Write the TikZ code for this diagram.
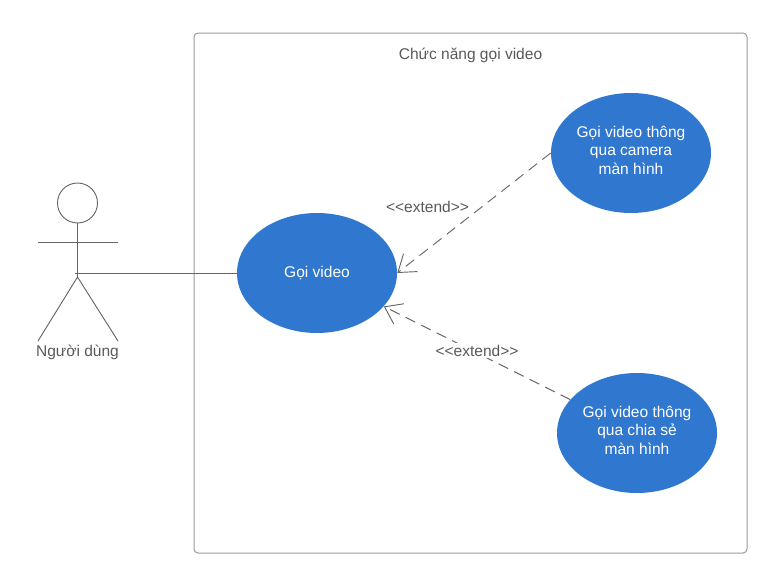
\documentclass[tikz,border=0pt]{standalone}
\usepackage{fontspec}
\setmainfont{Liberation Sans}
\usetikzlibrary{arrows.meta,positioning,shapes.geometric}
\definecolor{CaseBlue}{HTML}{3077CF}
\definecolor{LineGrey}{HTML}{666666}
\definecolor{FrameGrey}{HTML}{999999}
\definecolor{TextGrey}{HTML}{595959}

\begin{document}
\begin{tikzpicture}[
  x=0.75pt, y=-0.75pt,
  usecase/.style={ellipse, fill=CaseBlue, minimum width=120pt, minimum height=90pt, inner sep=0pt, align=center, text=white, font=\fontsize{11.65}{13.9}\selectfont},
  lifted/.style={usecase, execute at end node=\rule[-4pt]{0pt}{4pt}},
  frame/.style={draw=FrameGrey, line width=0.75pt, rounded corners=3pt},
  label/.style={text=TextGrey, font=\fontsize{11.65}{13.9}\selectfont, inner sep=1pt},
  stick/.style={draw=LineGrey, line width=0.7pt},
  extend/.style={-{Straight Barb[length=12pt, width=17pt]}, draw=LineGrey, line width=0.7pt, dash pattern=on 8pt off 5pt}
]
  \useasboundingbox (0,0) rectangle (767,582);
  \draw[frame] (194,33) rectangle (747,553);
  \node[label] (title) at (470.5,55) {Chức năng gọi video};

  \node[usecase] (call) at (317,273) {Gọi video};
  \node[lifted] (camera) at (631,153) {Gọi video thông\\qua camera\\màn hình};
  \node[lifted] (share) at (637,433) {Gọi video thông\\qua chia sẻ\\màn hình};

  \node[circle, stick, minimum size=30pt, inner sep=0pt] (head) at (77.5,203) {};
  \coordinate (armL) at (38,242);
  \coordinate (armR) at (118,242);
  \coordinate (hip) at (77.5,277);
  \coordinate (legL) at (38,341);
  \coordinate (legR) at (118,341);
  \coordinate (hand) at (75,273);
  \node[label] (user) at (77.5,352.5) {Người dùng};

  \draw[stick] (head.south) -- (hip);
  \draw[stick] (armL) -- (armR);
  \draw[stick] (legL) -- (hip) -- (legR);
  \draw[stick] (hand) -- (call.west);

  \draw[extend] (camera.west) -- (call.east);
  \draw[extend] (share) -- (call);
  \node[label] (ext1) at (427.5,206.5) {<{}<extend>{}>};
  \node[label, fill=white] (ext2) at (477,350.5) {<{}<extend>{}>};
\end{tikzpicture}
\end{document}
